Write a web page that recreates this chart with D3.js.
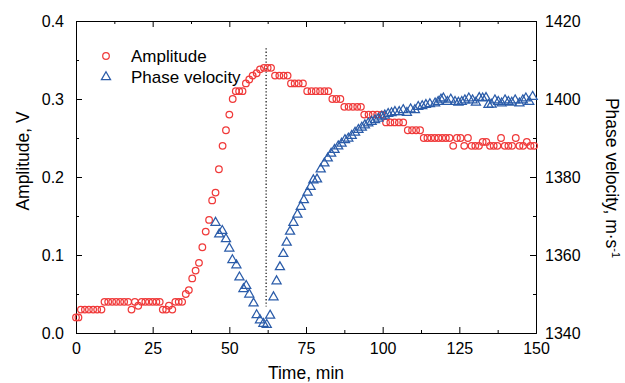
<!DOCTYPE html>
<html><head><meta charset="utf-8">
<script src="https://cdn.jsdelivr.net/npm/d3@7"></script>
<style>body{margin:0;background:#fff} text{font-family:Arial,"Liberation Sans",sans-serif;fill:#000}</style>
</head><body><svg id="c" width="625" height="383"></svg>
<script>
// Amplitude (V) vs time (min)
const amplitudeData = [
 [0.0,0.02],[0.8,0.02],
 [1.6,0.03],[2.9,0.03],[4.2,0.03],[5.6,0.03],[6.9,0.03],[8.3,0.03],
 [9.3,0.04],[10.5,0.04],[11.8,0.04],[13.1,0.04],[14.4,0.04],[15.7,0.04],[17.0,0.04],
 [18.1,0.03],[19.2,0.04],[20.3,0.035],[21.4,0.04],[22.6,0.04],[23.8,0.04],[25.0,0.04],[26.2,0.04],[27.3,0.04],
 [28.3,0.03],[29.4,0.03],[30.3,0.035],[31.4,0.03],[32.4,0.04],[33.5,0.04],[34.6,0.04],
 [35.8,0.05],[36.8,0.055],[37.9,0.07],[39.0,0.08],[40.1,0.09],[41.2,0.11],[42.3,0.13],[43.4,0.145],
 [44.4,0.17],[45.5,0.18],[46.6,0.21],[47.8,0.24],[48.9,0.26],[50.0,0.28],[51.1,0.30],
 [52.1,0.31],[53.2,0.31],[54.3,0.31],[55.4,0.32],[56.5,0.325],[57.6,0.33],[58.9,0.333],[60.0,0.338],
 [61.3,0.34],[62.5,0.34],[63.6,0.34],
 [64.9,0.33],[66.3,0.33],[67.7,0.33],[69.0,0.33],
 [70.1,0.32],[71.3,0.32],[72.6,0.32],[74.0,0.32],
 [75.4,0.31],[76.8,0.31],[78.2,0.31],[79.6,0.31],[81.0,0.31],[82.3,0.31],
 [83.6,0.30],[84.9,0.30],[86.2,0.30],
 [87.5,0.29],[88.9,0.29],[90.3,0.29],[91.7,0.29],[92.9,0.29],
 [94.0,0.28],[95.4,0.28],[96.8,0.28],[98.2,0.28],[99.7,0.28],
 [101.1,0.27],[102.5,0.27],[103.9,0.27],[105.3,0.27],[106.7,0.27],
 [108.2,0.26],[109.6,0.26],[110.9,0.26],[112.2,0.26],
 [113.4,0.25],[114.6,0.25],[115.8,0.25],[117.0,0.25],[118.2,0.25],[119.4,0.25],[120.6,0.25],[121.8,0.25],
 [123.0,0.24],[124.2,0.25],[125.4,0.25],[126.6,0.24],[127.8,0.25],[129.0,0.24],[130.2,0.24],[131.4,0.24],
 [132.6,0.245],[133.8,0.245],[135.0,0.24],[136.2,0.24],[137.4,0.24],[138.6,0.25],[139.8,0.24],[141.0,0.24],
 [142.2,0.24],[143.4,0.25],[144.6,0.24],[145.8,0.24],[147.0,0.245],[148.2,0.24],[149.4,0.24]
];
// Phase velocity (m/s) vs time (min)
const velocityData = [
 [45.5,1368.3],[46.7,1365.3],[47.7,1366.2],[48.9,1364.1],[50.0,1361.7],[51.0,1358.7],[52.3,1357.4],
 [53.3,1354.3],[54.6,1351.3],[55.5,1352.1],[56.5,1349.9],[57.9,1347.6],[58.9,1344.6],[60.0,1343.3],
 [61.1,1342.4],[62.2,1342.1],[63.3,1344.5],[64.4,1349.2],[65.4,1353.3],[66.5,1356.9],[67.6,1360.3],
 [68.7,1363.2],[69.8,1366.0],[70.9,1368.3],[72.2,1370.4],[73.3,1372.4],[74.3,1374.1],[75.5,1376.0],
 [76.5,1377.5],[77.4,1379.2],[78.6,1379.4],[79.8,1382.0],[81.0,1383.5],[82.1,1384.8],[83.2,1386.0],
 [84.3,1387.0],[85.5,1387.9],[86.6,1388.6],[87.7,1389.5],[88.8,1389.9],[89.9,1390.6],[91.0,1391.4],
 [92.1,1392.1],[93.2,1392.7],[94.2,1393.3],[95.3,1393.8],[96.4,1394.2],[97.5,1394.6],[98.6,1395.0],
 [99.7,1395.5],[100.7,1395.8],[101.8,1396.2],[102.9,1396.4],[104.0,1396.7],[105.4,1396.7],[106.7,1397.2],
 [107.9,1396.5],[109.1,1397.4],[110.5,1397.2],[111.6,1398.0],[112.9,1398.2],[114.1,1398.5],[115.4,1398.7],
 [117.1,1398.9],[118.1,1399.3],[119.0,1399.9],[119.8,1400.2],[121.1,1399.3],[122.2,1399.9],[123.6,1399.3],
 [124.7,1399.1],[125.8,1399.3],[126.8,1399.7],[128.1,1400.2],[129.3,1399.7],[130.4,1399.1],[131.5,1400.3],
 [132.6,1400.2],[133.7,1400.3],[134.5,1398.5],[135.5,1398.6],[136.6,1399.7],[137.7,1399.3],[138.8,1398.9],
 [139.9,1399.7],[141.0,1399.3],[142.1,1399.1],[143.2,1399.7],[144.6,1398.9],[145.7,1399.7],[146.7,1400.2],
 [147.8,1399.3],[148.9,1400.6]
];
const xTicks = [0,25,50,75,100,125,150];
const xMinor = [12.5,37.5,62.5,87.5,112.5,137.5];
const ampTicks = [0,0.1,0.2,0.3,0.4];
const ampMinor = [0.05,0.15,0.25,0.35];
const velTicks = [1340,1360,1380,1400,1420];
const velMinor = [1350,1370,1390,1410];
const markerTime = 62;             // vertical dotted line
const markerRange = [0.034,0.365]; // in amplitude units
const seriesNames = ["Amplitude","Phase velocity"];

const svg = d3.select("#c");
const L=76,R=536,T=21,B=333;
const x = d3.scaleLinear().domain([0,150]).range([L,R]);
const yA = d3.scaleLinear().domain([0,0.4]).range([B,T]);
const yV = d3.scaleLinear().domain([1340,1420]).range([B,T]);
const red="#f03a3a", blue="#2b5ca9";
const fs="16px";

function styleAxis(g){g.selectAll("path,line").attr("stroke","#000").attr("stroke-width",1);g.selectAll("text").style("font-size",fs).attr("fill","#000");}

svg.append("g").attr("transform",`translate(0,${B})`).call(d3.axisBottom(x).tickValues(xTicks).tickSizeInner(-6).tickSizeOuter(0).tickPadding(10).tickFormat(d3.format("d"))).call(styleAxis);
svg.append("g").attr("transform",`translate(0,${B})`).call(d3.axisBottom(x).tickValues(xMinor).tickSizeInner(-3).tickSizeOuter(0).tickFormat("")).call(styleAxis);
svg.append("g").attr("transform",`translate(0,${T})`).call(d3.axisTop(x).tickValues(xTicks).tickSizeInner(-6).tickSizeOuter(0).tickFormat("")).call(styleAxis);
svg.append("g").attr("transform",`translate(0,${T})`).call(d3.axisTop(x).tickValues(xMinor).tickSizeInner(-3).tickSizeOuter(0).tickFormat("")).call(styleAxis);
svg.append("g").attr("transform",`translate(${L},0)`).call(d3.axisLeft(yA).tickValues(ampTicks).tickSizeInner(-6).tickSizeOuter(0).tickPadding(12).tickFormat(d3.format(".1f"))).call(styleAxis);
svg.append("g").attr("transform",`translate(${L},0)`).call(d3.axisLeft(yA).tickValues(ampMinor).tickSizeInner(-3).tickSizeOuter(0).tickFormat("")).call(styleAxis);
svg.append("g").attr("transform",`translate(${R},0)`).call(d3.axisRight(yV).tickValues(velTicks).tickSizeInner(-6).tickSizeOuter(0).tickPadding(9).tickFormat(d3.format("d"))).call(styleAxis);
svg.append("g").attr("transform",`translate(${R},0)`).call(d3.axisRight(yV).tickValues(velMinor).tickSizeInner(-3).tickSizeOuter(0).tickFormat("")).call(styleAxis);

// dotted marker
svg.append("line").attr("x1",x(markerTime)).attr("x2",x(markerTime)).attr("y1",yA(markerRange[1])).attr("y2",yA(markerRange[0]))
  .attr("stroke","#222").attr("stroke-width",1.3).attr("stroke-dasharray","1.3,2");

// amplitude circles
svg.append("g").selectAll("circle").data(amplitudeData).join("circle")
  .attr("cx",d=>x(d[0])).attr("cy",d=>yA(d[1])).attr("r",3.3)
  .attr("fill","none").attr("stroke",red).attr("stroke-width",1.25);
// velocity triangles
const tri = d3.symbol().type(d3.symbolTriangle).size(36);
svg.append("g").selectAll("path").data(velocityData).join("path")
  .attr("transform",d=>`translate(${x(d[0])},${yV(d[1])})`).attr("d",tri)
  .attr("fill","none").attr("stroke",blue).attr("stroke-width",1.25);

// legend
svg.append("circle").attr("cx",106).attr("cy",56).attr("r",3.3).attr("fill","none").attr("stroke",red).attr("stroke-width",1.25);
svg.append("path").attr("transform","translate(106,77)").attr("d",tri).attr("fill","none").attr("stroke",blue).attr("stroke-width",1.25);
svg.append("text").attr("x",131).attr("y",61.5).style("font-size","17px").text(seriesNames[0]);
svg.append("text").attr("x",131).attr("y",82.5).style("font-size","17px").text(seriesNames[1]);

// axis titles
svg.append("text").attr("x",306).attr("y",379).attr("text-anchor","middle").style("font-size","17.5px").text("Time, min");
svg.append("text").attr("transform","translate(29,161) rotate(-90)").attr("text-anchor","middle").style("font-size","17.5px").text("Amplitude, V");
const rt = svg.append("text").attr("transform","translate(606,178) rotate(90)").attr("text-anchor","middle").style("font-size","17.5px");
rt.append("tspan").text("Phase velocity, m·s");
rt.append("tspan").attr("dy",-6).style("font-size","11px").text("-1");
</script></body></html>
